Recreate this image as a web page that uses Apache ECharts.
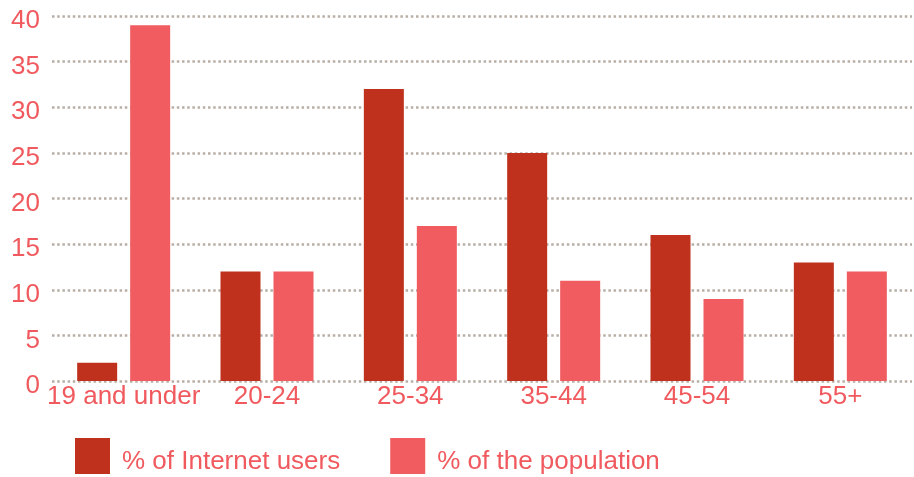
<!DOCTYPE html>
<html>
<head>
<meta charset="utf-8">
<script src="https://cdn.jsdelivr.net/npm/echarts@6/dist/echarts.min.js"></script>
<style>
  html, body { margin: 0; padding: 0; background: #ffffff; }
  #chart { width: 914px; height: 477px; }
</style>
</head>
<body>
<div id="chart"></div>
<script>
// Age groups and shares (%)
const ageGroups = ['19 and under', '20-24', '25-34', '35-44', '45-54', '55+'];
const internetUsers = [2, 12, 32, 25, 16, 13];
const population = [39, 12, 17, 11, 9, 12];
const seriesNames = ['% of Internet users', '% of the population'];

const textColor = '#f05a5e';
const fontFamily = '"Liberation Sans", Arial, Helvetica, sans-serif';

const chart = echarts.init(document.getElementById('chart'), null, { renderer: 'canvas' });

chart.setOption({
  animation: false,
  backgroundColor: '#ffffff',
  color: ['#bf311d', '#f05c5f'],
  grid: { left: 52, right: 2, top: 16, bottom: 96, containLabel: false },
  legend: {
    left: 75,
    top: 438,
    padding: 0,
    itemWidth: 35,
    itemHeight: 36,
    itemGap: 50,
    icon: 'rect',
    data: seriesNames,
    formatter: '{t|{name}}',
    textStyle: {
      color: textColor,
      fontSize: 26,
      fontFamily: fontFamily,
      rich: {
        t: {
          color: textColor,
          fontSize: 26,
          fontFamily: fontFamily,
          padding: [11, 0, 0, 7]
        }
      }
    }
  },
  xAxis: {
    type: 'category',
    data: ageGroups,
    axisLine: { show: false },
    axisTick: { show: false },
    axisLabel: {
      interval: 0,
      color: textColor,
      fontSize: 26,
      fontFamily: fontFamily,
      margin: 3
    }
  },
  yAxis: {
    type: 'value',
    min: 0,
    max: 40,
    interval: 5,
    axisLine: { show: false },
    axisTick: { show: false },
    axisLabel: {
      color: textColor,
      fontSize: 26,
      fontFamily: fontFamily,
      margin: 12,
      formatter: '{v|{value}}',
      rich: {
        v: {
          color: textColor,
          fontSize: 26,
          fontFamily: fontFamily,
          padding: [10, 0, 0, 0]
        }
      }
    },
    splitLine: {
      show: true,
      lineStyle: { color: '#b8aea5', width: 2.5, type: [2.5, 2.7] }
    }
  },
  series: [
    {
      name: seriesNames[0],
      type: 'bar',
      data: internetUsers,
      barWidth: 40,
      barGap: '32.5%'
    },
    {
      name: seriesNames[1],
      type: 'bar',
      data: population,
      barWidth: 40,
      barGap: '32.5%'
    }
  ]
});
</script>
</body>
</html>
